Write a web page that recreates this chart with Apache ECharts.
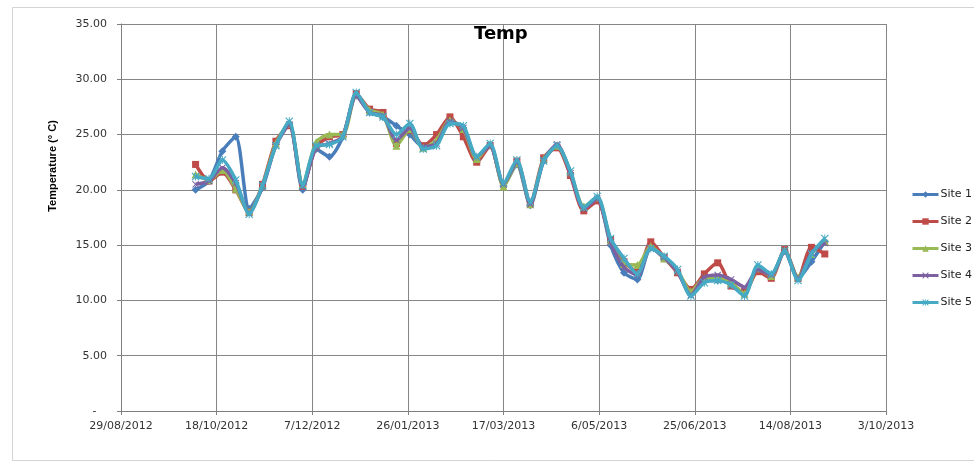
<!DOCTYPE html>
<html>
<head>
<meta charset="utf-8">
<title>Temp</title>
<script src="https://cdn.jsdelivr.net/npm/echarts@6/dist/echarts.min.js"></script>
<style>
  html, body { margin: 0; padding: 0; background: #fff; }
  #temp { width: 974px; height: 467px; }
</style>
</head>
<body>
<div id="temp"></div>
<script>
// sample dates (weekly)
var dates = [
  '2012-10-07', '2012-10-14', '2012-10-21', '2012-10-28', '2012-11-04', '2012-11-11',
  '2012-11-18', '2012-11-25', '2012-12-02', '2012-12-09', '2012-12-16', '2012-12-23',
  '2012-12-30', '2013-01-06', '2013-01-13', '2013-01-20', '2013-01-27', '2013-02-03',
  '2013-02-10', '2013-02-17', '2013-02-24', '2013-03-03', '2013-03-10', '2013-03-17',
  '2013-03-24', '2013-03-31', '2013-04-07', '2013-04-14', '2013-04-21', '2013-04-28',
  '2013-05-05', '2013-05-12', '2013-05-19', '2013-05-26', '2013-06-02', '2013-06-09',
  '2013-06-16', '2013-06-23', '2013-06-30', '2013-07-07', '2013-07-14', '2013-07-21',
  '2013-07-28', '2013-08-04', '2013-08-11', '2013-08-18', '2013-08-25', '2013-09-01'
];

var site1 = [20.0, 20.8, 23.5, 24.8, 18.3, 20.2, 24.1, 26.0, 20.0, 23.7, 23.0, 24.8,
  28.5, 27.0, 26.6, 25.8, 25.0, 23.9, 24.3, 26.1, 25.6, 22.8, 24.0, 20.4,
  22.3, 18.6, 22.6, 24.0, 21.5, 18.3, 19.2, 15.0, 12.5, 11.9, 14.8, 13.8,
  12.6, 10.6, 11.8, 11.8, 11.5, 10.6, 12.8, 12.3, 14.5, 12.0, 13.5, 15.3];
var site2 = [22.3, 20.8, 21.6, 20.0, 18.0, 20.5, 24.4, 25.8, 20.3, 23.9, 24.8, 25.0,
  28.7, 27.3, 27.0, 24.2, 25.4, 24.0, 25.0, 26.6, 24.8, 22.5, 24.0, 20.5,
  22.6, 18.8, 22.9, 23.8, 21.3, 18.1, 19.0, 15.5, 13.5, 12.6, 15.3, 13.9,
  12.5, 11.0, 12.4, 13.4, 11.3, 10.8, 12.6, 12.0, 14.6, 12.0, 14.8, 14.2];
var site3 = [21.4, 20.9, 21.8, 20.1, 18.0, 20.4, 24.2, 26.0, 20.5, 24.3, 25.0, 25.0,
  28.6, 27.2, 26.8, 24.0, 25.5, 23.8, 24.5, 26.3, 25.5, 22.8, 24.1, 20.3,
  22.4, 18.7, 22.8, 24.0, 21.6, 18.5, 19.3, 15.4, 13.3, 13.2, 14.9, 13.8,
  12.7, 10.8, 12.0, 12.0, 11.6, 10.6, 12.9, 12.2, 14.5, 12.1, 14.2, 15.4];
var site4 = [20.5, 20.8, 22.0, 20.6, 17.9, 20.3, 24.0, 25.9, 20.3, 23.8, 24.2, 24.8,
  28.5, 27.0, 26.7, 24.5, 25.6, 23.9, 24.2, 26.2, 25.6, 23.0, 24.0, 20.5,
  22.5, 18.7, 22.7, 24.1, 21.5, 18.3, 19.2, 15.3, 13.0, 12.3, 14.7, 13.9,
  12.6, 10.5, 12.1, 12.3, 11.9, 11.2, 12.8, 12.3, 14.4, 12.0, 14.3, 15.2];
var site5 = [21.2, 21.0, 22.7, 20.9, 17.8, 20.4, 24.0, 26.2, 20.4, 24.0, 24.1, 24.8,
  28.8, 27.0, 26.6, 25.0, 26.0, 23.7, 24.0, 26.0, 25.8, 23.0, 24.2, 20.6,
  22.7, 18.9, 22.6, 24.0, 21.7, 18.4, 19.4, 15.6, 13.8, 12.4, 14.7, 14.0,
  12.8, 10.4, 11.6, 11.8, 11.4, 10.4, 13.2, 12.4, 14.5, 11.8, 14.2, 15.6];

var siteNames = ['Site 1', 'Site 2', 'Site 3', 'Site 4', 'Site 5'];
var startDate = '2012-08-29';

var DAY = 86400000;
function toDays(s) {
  var p = s.split('-');
  var p0 = startDate.split('-');
  return Math.round((Date.UTC(+p[0], p[1] - 1, +p[2]) - Date.UTC(+p0[0], p0[1] - 1, +p0[2])) / DAY);
}
function dayLabel(v) {
  var p0 = startDate.split('-');
  var d = new Date(Date.UTC(+p0[0], p0[1] - 1, +p0[2]) + v * DAY);
  var m = d.getUTCMonth() + 1;
  return d.getUTCDate() + '/' + (m < 10 ? '0' + m : m) + '/' + d.getUTCFullYear();
}
function pairs(vals) {
  return vals.map(function (v, i) { return [toDays(dates[i]), v]; });
}

var crossPath = 'path://M0,1L1,0L5,4L9,0L10,1L6,5L10,9L9,10L5,6L1,10L0,9L4,5Z';
var starPath = 'path://M0,1L1,0L5,4L9,0L10,1L6,5L10,9L9,10L5,6L1,10L0,9L4,5Z M4.4,0L5.6,0L5.6,10L4.4,10Z';

var colors = ['#4A7EBB', '#BE4B48', '#98B954', '#7D60A0', '#46AAC5'];
var symbols = ['diamond', 'rect', 'triangle', crossPath, starPath];
var symbolSizes = [8, 7, 8, 7, 8];
var allSites = [site1, site2, site3, site4, site5];

var myChart = echarts.init(document.getElementById('temp'));

var option = {
  backgroundColor: '#fff',
  animation: false,
  color: colors,
  textStyle: { fontFamily: 'DejaVu Sans' },
  title: {
    text: 'Temp',
    left: 469,
    top: 20,
    textStyle: { fontSize: 18, fontWeight: 'bold', color: '#000', fontFamily: 'DejaVu Sans' }
  },
  legend: {
    orient: 'vertical',
    left: 906,
    top: 184,
    itemWidth: 26,
    itemHeight: 8,
    itemGap: 16,
    data: siteNames,
    lineStyle: { width: 3 },
    textStyle: { fontSize: 11, color: '#222', padding: [0, 0, 0, -3] }
  },
  grid: {
    left: 121,
    right: 88,
    top: 24,
    bottom: 56
  },
  xAxis: {
    type: 'value',
    min: 0,
    max: 400,
    interval: 50,
    axisLine: { show: true, lineStyle: { color: '#7f7f7f', width: 1 } },
    axisTick: { show: true, length: 4, lineStyle: { color: '#7f7f7f' } },
    splitLine: { show: true, lineStyle: { color: '#868686', width: 1 } },
    axisLabel: {
      margin: 10,
      fontSize: 11,
      color: '#333',
      formatter: dayLabel
    }
  },
  yAxis: {
    type: 'value',
    min: 0,
    max: 35,
    interval: 5,
    axisLine: { show: true, lineStyle: { color: '#7f7f7f', width: 1 } },
    axisTick: { show: true, length: 4, lineStyle: { color: '#7f7f7f' } },
    splitLine: { show: true, lineStyle: { color: '#868686', width: 1 } },
    axisLabel: {
      margin: 14,
      fontSize: 11,
      color: '#333',
      formatter: function (v) { return v === 0 ? '-   ' : v.toFixed(2); }
    }
  },
  graphic: [
    {
      type: 'rect',
      shape: { x: 12.5, y: 7.5, width: 980, height: 453 },
      style: { fill: 'none', stroke: '#d4d4d4', lineWidth: 1 },
      silent: true,
      z: -1
    },
    {
      type: 'text',
      x: 53,
      y: 166,
      rotation: Math.PI / 2,
      style: {
        text: 'Temperature (° C)',
        fontSize: 11,
        fontWeight: 'bold',
        fontFamily: 'Liberation Sans',
        fill: '#000',
        textAlign: 'center',
        textVerticalAlign: 'middle'
      }
    }
  ],
  series: siteNames.map(function (name, k) {
    return {
      name: name,
      type: 'line',
      data: pairs(allSites[k]),
      symbol: symbols[k],
      symbolSize: symbolSizes[k],
      showSymbol: true,
      smooth: 0.25,
      lineStyle: { width: 3.5, color: colors[k] },
      itemStyle: { color: colors[k] },
      z: 2 + k
    };
  })
};

myChart.setOption(option);
</script>
</body>
</html>
